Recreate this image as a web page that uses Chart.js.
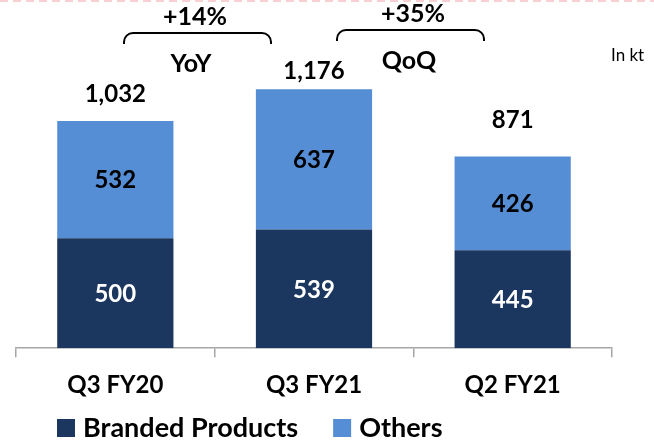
<!DOCTYPE html>
<html>
<head>
<meta charset="utf-8">
<script src="https://cdn.jsdelivr.net/npm/chart.js@4/dist/chart.umd.min.js"></script>
<style>
  html, body { margin: 0; padding: 0; background: #fff; }
  #wrap { width: 654px; height: 440px; }
</style>
</head>
<body>
<div id="wrap"><canvas id="chart" width="654" height="440"></canvas></div>
<script>
// data
const categories = ['Q3 FY20', 'Q3 FY21', 'Q2 FY21'];
const brandedProducts = [500, 539, 445];
const others = [532, 637, 426];
const seriesNames = ['Branded Products', 'Others'];
const growthValues = ['+14%', '+35%'];
const growthNames = ['YoY', 'QoQ'];
const unitNote = 'In kt';

const DARK = '#1b365f';
const LIGHT = '#558ed5';
const FONT = 'Lato, "Open Sans", sans-serif';

function totals() {
  return brandedProducts.map((v, i) => v + others[i]);
}

// value labels: inside each segment and the total above the bar
const valueLabels = {
  id: 'valueLabels',
  afterDatasetsDraw(chart, args, opts) {
    const ctx = chart.ctx;
    ctx.save();
    ctx.font = 'bold 24px ' + FONT;
    ctx.textAlign = 'center';
    ctx.textBaseline = 'middle';
    chart.data.datasets.forEach((ds, di) => {
      const meta = chart.getDatasetMeta(di);
      meta.data.forEach((bar, i) => {
        ctx.fillStyle = opts.insideColors[di];
        ctx.fillText(String(ds.data[i]), bar.x, (bar.y + bar.base) / 2 + 1);
      });
    });
    const top = chart.getDatasetMeta(chart.data.datasets.length - 1);
    ctx.fillStyle = '#000';
    totals().forEach((t, i) => {
      const bar = top.data[i];
      ctx.fillText(t.toLocaleString('en-US'), bar.x, bar.y - opts.totalOffsets[i]);
    });
    ctx.restore();
  }
};

// growth brackets, unit note, dashed top rule
const annotations = {
  id: 'annotations',
  afterDraw(chart) {
    const ctx = chart.ctx;
    ctx.save();
    // pink dashed rule at the very top
    ctx.strokeStyle = '#f8cfd3';
    ctx.lineWidth = 2;
    ctx.setLineDash([8, 5]);
    ctx.beginPath();
    ctx.moveTo(0, 1);
    ctx.lineTo(chart.width, 1);
    ctx.stroke();
    ctx.setLineDash([]);

    const brackets = [
      { x1: 124, x2: 271, top: 33, end: 44, tx: 195, ty1: 17, ty2: 64 },
      { x1: 337, x2: 484, top: 30, end: 41, tx: 413, ty1: 14, ty2: 61 }
    ];
    ctx.strokeStyle = '#000';
    ctx.lineWidth = 2;
    brackets.forEach((b, i) => {
      const r = 9;
      ctx.beginPath();
      ctx.moveTo(b.x1, b.end);
      ctx.arcTo(b.x1, b.top, b.x1 + r, b.top, r);
      ctx.lineTo(b.x2 - r, b.top);
      ctx.arcTo(b.x2, b.top, b.x2, b.top + r, r);
      ctx.lineTo(b.x2, b.end);
      ctx.stroke();
      ctx.fillStyle = '#000';
      ctx.font = 'bold 25px ' + FONT;
      ctx.textAlign = 'center';
      ctx.textBaseline = 'middle';
      ctx.fillText(growthValues[i], b.tx, b.ty1);
      ctx.fillText(growthNames[i], b.tx - 4, b.ty2);
    });

    ctx.font = '17px ' + FONT;
    ctx.textAlign = 'left';
    ctx.fillText(unitNote, 611, 56);
    ctx.restore();
  }
};

// legend drawn under the axis, left aligned like the source slide
const bottomLegend = {
  id: 'bottomLegend',
  afterDraw(chart) {
    const ctx = chart.ctx;
    ctx.save();
    ctx.font = 'bold 27px ' + FONT;
    ctx.textBaseline = 'middle';
    ctx.textAlign = 'left';
    let x = 57;
    const y = 428;
    chart.data.datasets.forEach(ds => {
      ctx.fillStyle = ds.backgroundColor;
      ctx.fillRect(x, y - 9, 18, 18);
      ctx.fillStyle = '#000';
      ctx.fillText(ds.label, x + 26, y);
      x += 26 + ctx.measureText(ds.label).width + 35;
    });
    ctx.restore();
  }
};

new Chart(document.getElementById('chart'), {
  type: 'bar',
  data: {
    labels: categories,
    datasets: [
      { label: seriesNames[0], data: brandedProducts, backgroundColor: DARK },
      { label: seriesNames[1], data: others, backgroundColor: LIGHT }
    ]
  },
  options: {
    responsive: false,
    animation: false,
    devicePixelRatio: 1,
    categoryPercentage: 1,
    barPercentage: 0.585,
    layout: { padding: { top: 18, left: 16, right: 42, bottom: 26 } },
    plugins: {
      legend: { display: false },
      tooltip: { enabled: false },
      valueLabels: { insideColors: ['#fff', '#000'], totalOffsets: [27, 18, 36] }
    },
    scales: {
      x: {
        stacked: true,
        grid: { drawOnChartArea: false, drawTicks: true, tickLength: 9, color: '#a6a6a6', lineWidth: 1.5, offset: true },
        border: { display: true, color: '#a6a6a6', width: 1.5 },
        ticks: { color: '#000', padding: 14, font: { family: FONT, size: 24, weight: 'bold' } }
      },
      y: {
        stacked: true,
        display: false,
        min: 0,
        max: 1500
      }
    }
  },
  plugins: [valueLabels, annotations, bottomLegend]
});
</script>
</body>
</html>
